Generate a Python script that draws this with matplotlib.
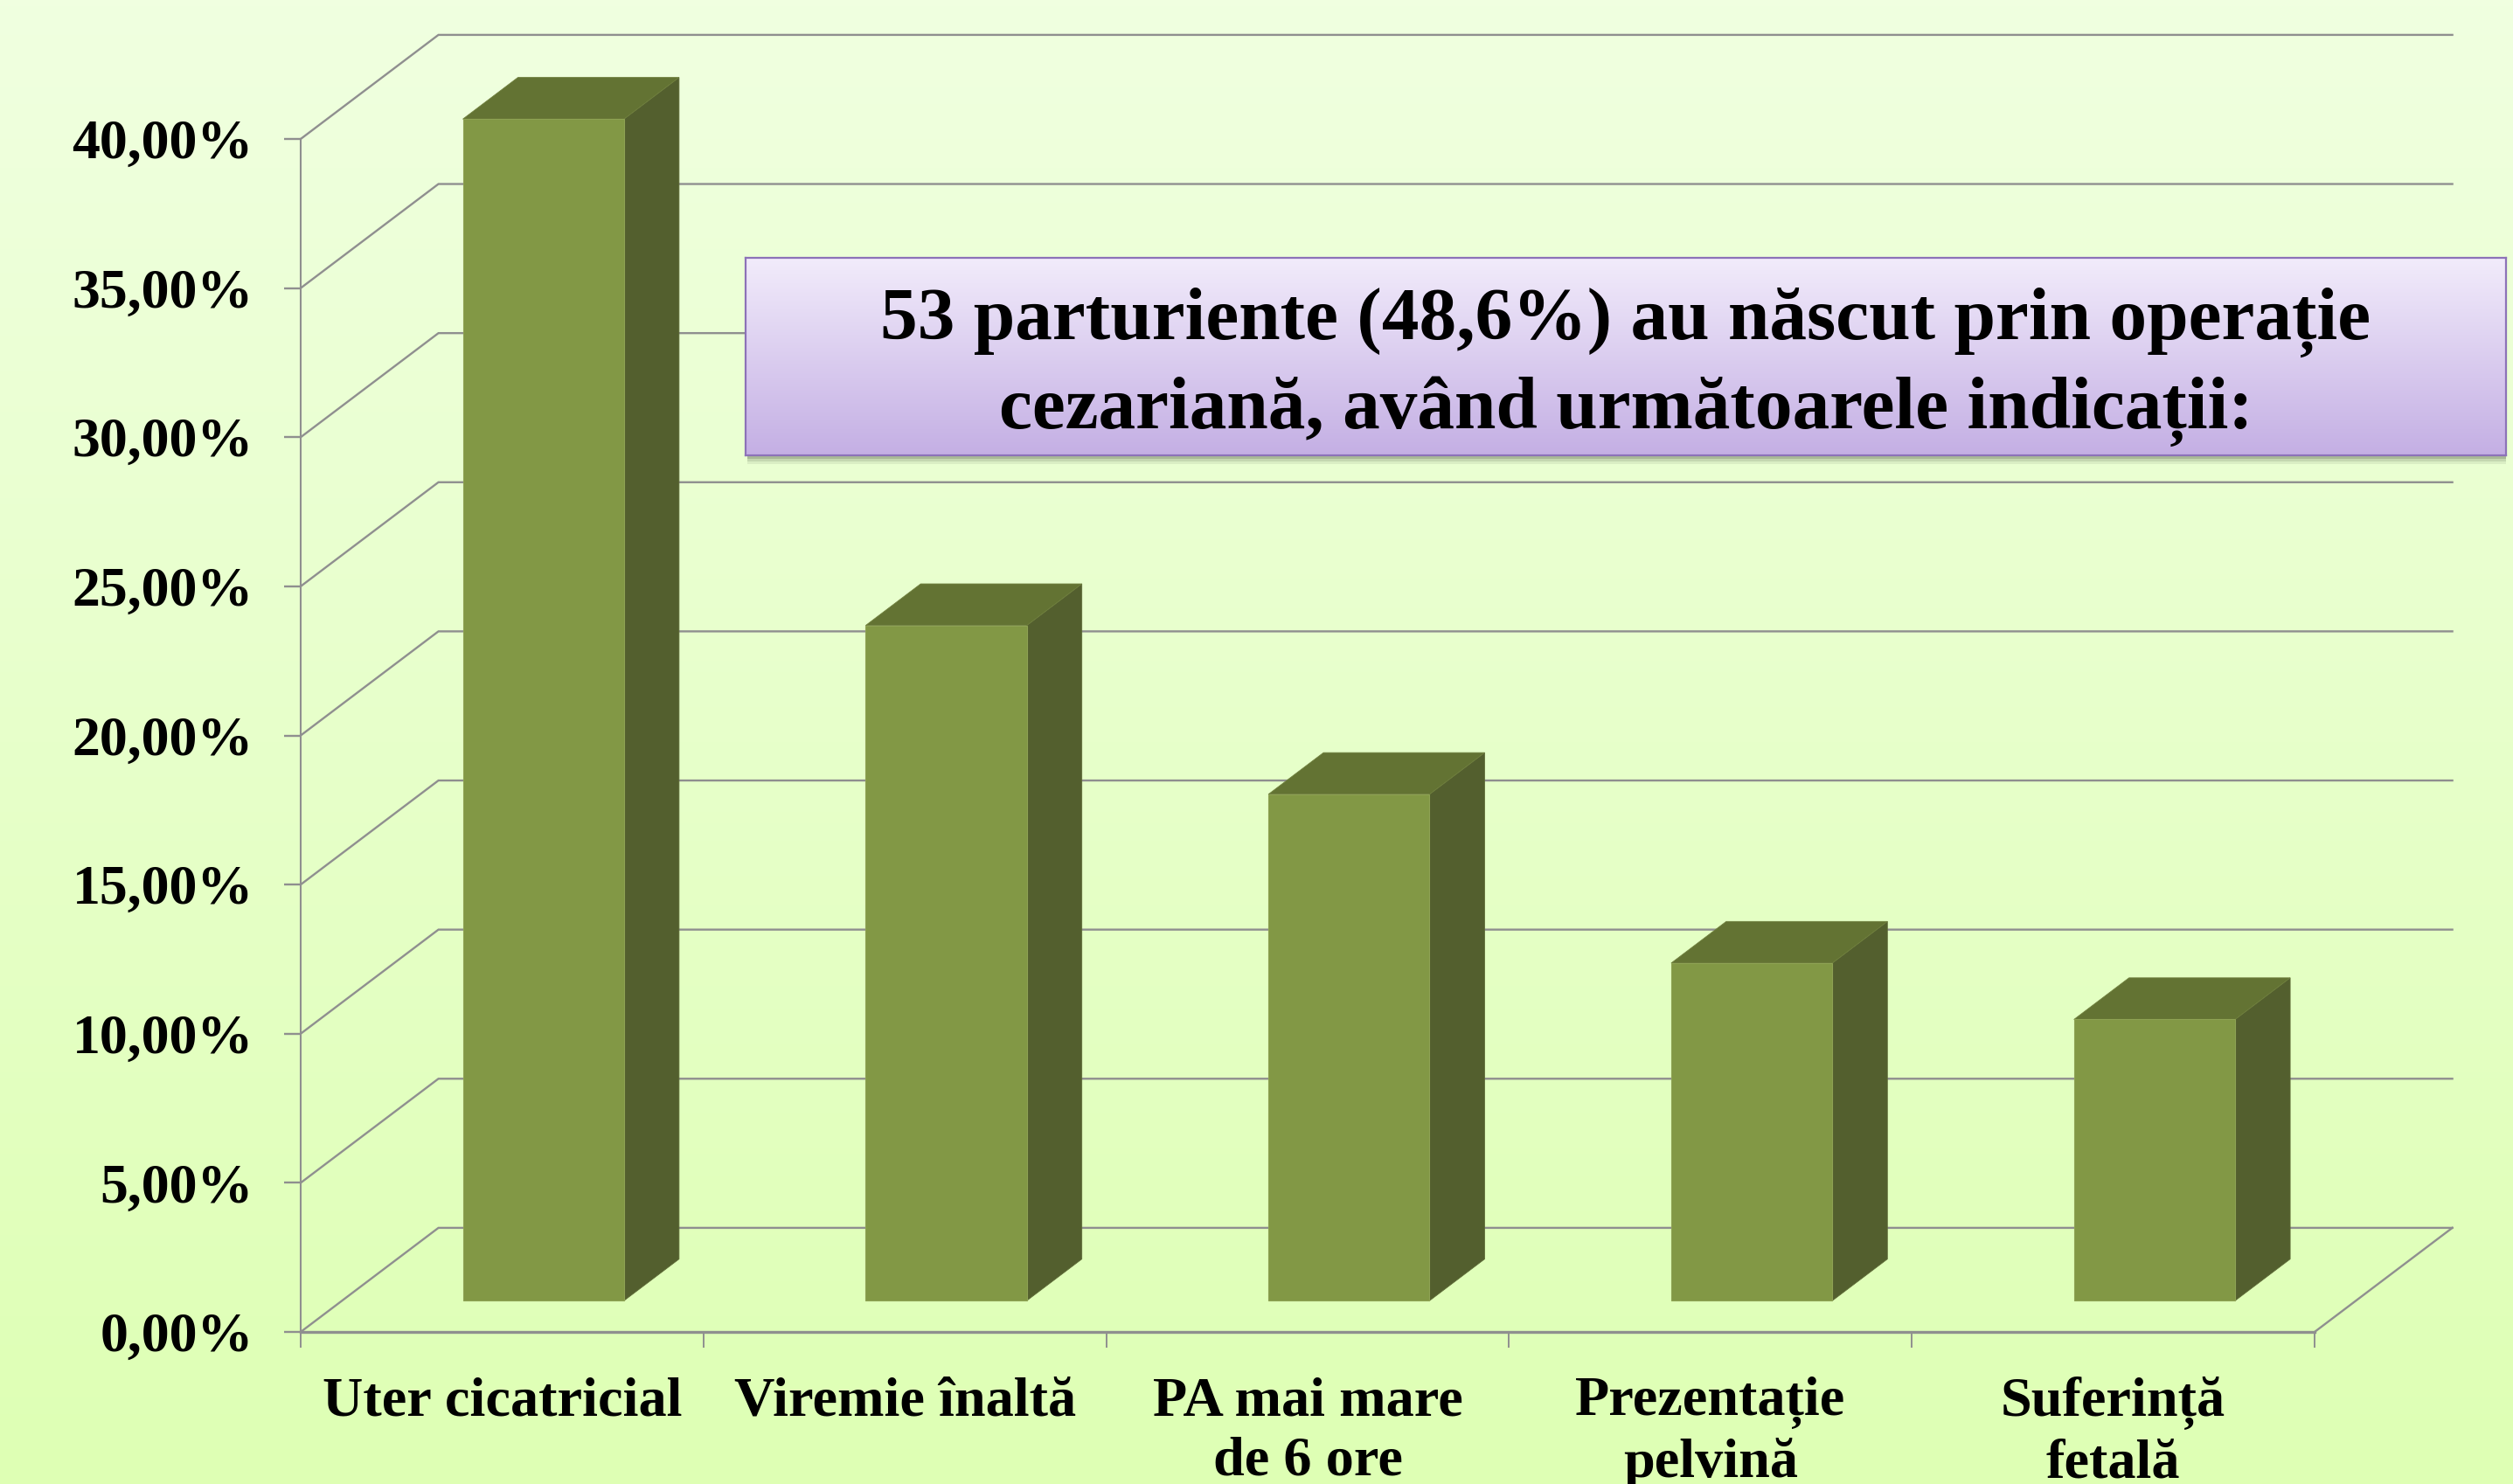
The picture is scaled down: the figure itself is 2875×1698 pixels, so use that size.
import numpy as np
import matplotlib
matplotlib.use('Agg')
import matplotlib.pyplot as plt
from matplotlib.patches import Polygon, Rectangle

categories = ['Uter cicatricial', 'Viremie înaltă', 'PA mai mare\nde 6 ore',
              'Prezentație\npelvină', 'Suferință\nfetală']
values = [39.62, 22.64, 16.98, 11.32, 9.43]
y_ticks = [0, 5, 10, 15, 20, 25, 30, 35, 40]
y_labels = ['0,00%', '5,00%', '10,00%', '15,00%', '20,00%', '25,00%', '30,00%', '35,00%', '40,00%']
title = '53 parturiente (48,6%) au născut prin operație\ncezariană, având următoarele indicații:'

W, H = 2875, 1698
FONT = 'Liberation Serif'
GRID = '#8f8f8f'
# oblique depth of the 3d look, in data units
DEPTH_X = 0.342
DEPTH_Y = 3.49


def project(x, y, d):
    return x + d * DEPTH_X, y + d * DEPTH_Y


def draw_bar(ax, i, val, width=0.4, d0=0.3, d1=0.7):
    x0 = i + (1 - width) / 2
    x1 = x0 + width
    front = [project(x0, 0, d0), project(x1, 0, d0), project(x1, val, d0), project(x0, val, d0)]
    side = [project(x1, 0, d0), project(x1, 0, d1), project(x1, val, d1), project(x1, val, d0)]
    top = [project(x0, val, d0), project(x1, val, d0), project(x1, val, d1), project(x0, val, d1)]
    ax.add_patch(Polygon(side, fc='#535f2e', ec='#5d6a36', lw=0.6, zorder=3, clip_on=False))
    ax.add_patch(Polygon(top, fc='#637333', ec='#6f7f3d', lw=0.6, zorder=3, clip_on=False))
    ax.add_patch(Polygon(front, fc='#829845', ec='#8ea254', lw=0.8, zorder=4, clip_on=False))


def box_px(x0, y0, x1, y1):
    return [x0 / W, 1 - y1 / H, (x1 - x0) / W, (y1 - y0) / H]


fig = plt.figure(figsize=(W / 100, H / 100), dpi=100)

# page background gradient
bg = fig.add_axes([0, 0, 1, 1], zorder=0)
top_c = np.array([240, 255, 224]) / 255
bot_c = np.array([222, 255, 180]) / 255
t = np.linspace(0, 1, 256)[:, None, None]
bg.imshow(top_c * (1 - t) + bot_c * t, aspect='auto', extent=(0, 1, 0, 1))
bg.axis('off')

ax = fig.add_axes(box_px(344, 159, 2648, 1524), zorder=1)
ax.patch.set_alpha(0)
ax.set_xlim(0, 5)
ax.set_ylim(0, 40)

# back wall and side wall lines
for v in y_ticks:
    xs, ys = zip(project(0, v, 0), project(0, v, 1), project(5, v, 1))
    ax.plot(xs, ys, color=GRID, lw=1.7, zorder=1, clip_on=False, solid_joinstyle='miter')
xs, ys = zip(project(5, 0, 0), project(5, 0, 1))
ax.plot(xs, ys, color=GRID, lw=1.7, zorder=1, clip_on=False)

for i, val in enumerate(values):
    draw_bar(ax, i, val)

ax.set_yticks(y_ticks)
ax.set_yticklabels(y_labels, fontfamily=FONT, fontweight='bold', fontsize=46)
ax.set_xticks(range(6))
ax.set_xticklabels([])
ax.set_xticks(np.arange(5) + 0.5, labels=categories, minor=True,
              fontfamily=FONT, fontweight='bold', fontsize=46.3, linespacing=1.22)
ax.tick_params(axis='x', which='major', length=13, width=1.4, color=GRID)
ax.tick_params(axis='x', which='minor', length=0, pad=37)
ax.tick_params(axis='y', length=14, width=1.7, color=GRID, pad=25)
for s in ['top', 'right']:
    ax.spines[s].set_visible(False)
ax.spines['left'].set_color(GRID)
ax.spines['left'].set_linewidth(1.5)
ax.spines['bottom'].set_color(GRID)
ax.spines['bottom'].set_linewidth(2.4)

# text box with shadow
for k, a in [(10, 0.10), (7, 0.16), (4, 0.25)]:
    fig.add_artist(Rectangle((855 / W, 1 - (521 + k) / H), 2012 / W, 30 / H,
                             transform=fig.transFigure, fc='#55604a', ec='none', alpha=a, zorder=2))
box = fig.add_axes(box_px(853, 295, 2867, 521), zorder=3)
c0 = np.array([242, 236, 251]) / 255
c1 = np.array([196, 175, 228]) / 255
box.imshow(c0 * (1 - t) + c1 * t, aspect='auto', extent=(0, 1, 0, 1))
box.set_xticks([])
box.set_yticks([])
for s in box.spines.values():
    s.set_color('#8c72b8')
    s.set_linewidth(1.6)
box.text(0.5, 0.447, title, transform=box.transAxes, ha='center', va='center',
         fontfamily=FONT, fontweight='bold', fontsize=61.5, linespacing=1.37, color='black')

fig.savefig('out.png', dpi=100)
